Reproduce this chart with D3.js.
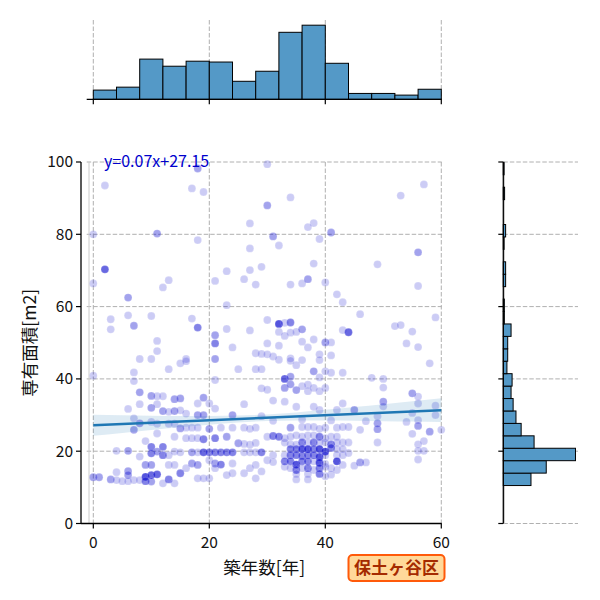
<!DOCTYPE html>
<html><head><meta charset="utf-8">
<script src="https://cdn.jsdelivr.net/npm/d3@7"></script>
<style>body{margin:0;background:#fff}svg{display:block}</style>
</head><body>
<script>
// ---------- data ----------
const xTicks = [0, 20, 40, 60];
const yTicks = [0, 20, 40, 60, 80, 100];
const topBinRange = [0, 60];            // 15 bins, width 4
const topCounts = [22,29,96,79,91,89,43,67,160,177,86,14,14,10,24];
const rightBinRange = [10.5, 99.9];      // 26 bins
const rightCounts = [107,166,279,119,69,49,38,30,34,14,17,17,30,4,4,0,9,9,0,3,9,0,0,5,0,3];
const regSlope = 0.07, regIntercept = 27.15;
const bandX  = [0,5,10,15,20,25,30,35,40,45,50,55,60];
const bandLo = [24.25,25.06,25.86,26.63,27.35,27.95,28.33,28.47,28.46,28.40,28.30,28.19,28.08];
const bandHi = [30.05,29.94,29.84,29.77,29.75,29.85,30.17,30.73,31.44,32.20,33.00,33.81,34.62];
const xLabel = "築年数[年]";
const yLabel = "専有面積[m2]";
const eqLabel = "y=0.07x+27.15";
const wardLabel = "保土ヶ谷区";
// [築年数, 専有面積, 重なり数]
const points = [
[2,93.5,1],[17,92.7,1],[19,91.7,1],[18,98.2,2],[27,83.0,1],[0,80.0,1],[11,80.2,2],[18,78.4,1],[27,76.1,1],[2,70.3,4],
[0,66.4,1],[13,67.3,1],[12,65.3,1],[6,62.5,2],[21,67.1,1],[23,69.8,1],[27,70.1,1],[26,67.6,1],[28,66.1,1],[29,71.0,1],
[23,60.4,1],[3,56.5,1],[3,53.7,1],[6,57.6,1],[7,54.7,2],[10,57.4,1],[17,56.7,1],[18,54.2,3],[11,50.5,1],[11,47.7,1],
[8,45.5,1],[10,45.5,1],[21,52.1,2],[21,49.8,3],[21,45.5,2],[24,48.7,1],[23,53.8,1],[27,53.4,1],[28,47.1,1],[29,46.9,1],[16,45.5,1],
[30,99.4,1],[34,90.2,1],[30,88.0,2],[38,83.1,1],[37,82.0,1],[41,80.5,2],[31,79.4,2],[39,78.7,1],[32,76.9,1],[57,93.8,1],
[53,90.7,1],[56,75.0,2],[49,71.7,1],[38,71.9,1],[34,66.1,1],[36,66.4,1],[37,67.6,2],[40,66.7,1],[42,63.4,1],[43,61.2,1],
[56,65.7,1],[46,57.9,1],[59,57.0,1],[30,56.3,1],[32,55.2,5],[33,55.5,1],[34,55.6,3],[32,53.0,1],[33,51.9,1],[34,52.8,1],
[35,53.0,1],[36,53.7,2],[38,50.9,1],[37,48.7,1],[36,50.3,1],[40,50.1,2],[41,50.1,1],[30,49.8,1],[32,49.2,1],[43,53.5,1],
[44,52.9,4],[52,54.6,1],[53,54.9,1],[55,53.1,1],[54,49.8,1],[56,48.8,1],
[30,46.8,1],[31,46.2,1],[32,45.3,1],[34,45.7,1],[34,45.0,1],[36,45.2,1],[39,46.8,1],[41,46.5,1],[39,45.2,1],[35,43.8,1],
[13,42.7,1],[0,40.9,1],[7,41.8,1],[7,39.4,1],[8,36.3,2],[8,33.0,1],[6,31.7,1],[10,35.3,2],[11,35.2,1],[12,35.2,1],
[10,32.0,2],[11,33.0,1],[12,31.1,2],[14,34.4,2],[14,31.1,2],[13,30.9,1],[7,29.1,1],[7,25.9,2],[8,27.7,2],[10,28.1,1],
[11,24.9,1],[11,27.6,1],[13,27.6,1],[14,27.6,1],[14,24.0,1],[9,22.8,1],[10,21.2,3],[10,19.4,3],[12,21.2,3],[12,18.9,3],
[11,19.9,2],[13,18.9,1],[14,19.9,1],[8,18.5,1],[4,20.1,1],[6,20.1,2],[9,16.2,2],[10,16.2,2],[13,16.2,1],[14,16.2,1],
[4,14.2,1],[6,14.5,2],[6,13.4,2],[0,12.8,2],[1,12.8,2],[3,12.2,2],[4,12.0,1],[7,12.0,1],[8,12.0,1],[9,12.9,5],
[10,13.4,4],[11,13.6,4],[9,11.7,3],[10,11.6,2],[12,11.1,1],[13,12.2,3],[14,11.1,1],[5,11.7,1],[6,11.7,1],
[15,44.3,1],[16,44.9,1],[25,42.7,1],[28,42.7,1],[29,42.7,1],[21,39.7,1],[29,37.4,1],[19,34.8,2],[18,33.2,1],[20,33.2,1],
[21,31.8,1],[26,33.0,1],[15,34.6,2],[18,30.0,2],[19,30.0,2],[24,30.0,2],[15,31.3,1],[16,30.4,1],[29,29.7,1],[15,26.3,2],
[16,26.5,1],[17,26.5,1],[18,26.5,1],[20,26.2,2],[21,23.6,3],[23,24.0,2],[19,23.3,3],[18,23.6,1],[17,23.6,1],[16,23.6,1],
[25,22.2,2],[26,22.0,1],[27,21.8,1],[28,22.3,1],[22,26.5,1],[24,26.5,1],[26,26.5,1],[27,26.2,1],[28,26.5,1],
[15,19.7,1],[17,19.7,2],[18,19.7,1],[19,19.7,4],[20,19.7,3],[21,19.7,3],[22,19.7,3],[23,19.7,3],[24,19.7,3],[26,19.7,1],
[27,19.7,1],[28,19.7,1],[29,19.7,3],[17,16.6,2],[18,16.2,2],[20,17.5,1],[21,16.6,2],[22,16.3,3],[24,16.6,1],[15,13.9,3],
[16,15.3,1],[18,12.5,1],[19,12.5,1],[20,12.5,1],[21,15.3,1],[23,13.4,1],[24,13.9,1],[26,13.9,1],[27,15.3,1],[28,16.2,1],
[29,14.4,1],[28,12.5,1],
[33,40.0,4],[34,40.6,2],[33,37.5,2],[34,38.5,2],[35,36.9,2],[36,38.0,1],[37,38.4,1],[37,36.6,1],[38,37.5,1],[39,40.4,1],
[38,42.1,2],[39,36.6,1],[40,37.5,1],[41,41.7,1],[43,41.7,1],[40,42.1,1],[33,33.7,1],[35,32.3,1],[38,32.3,1],[39,31.4,1],
[43,33.2,1],[42,31.4,1],[30,37.0,1],[31,34.0,1],[31,28.4,1],[36,28.8,1],[41,28.5,1],
[34,26.5,2],[36,26.7,1],[37,26.7,1],[38,26.7,1],[39,26.2,1],[40,26.5,1],[42,26.5,1],[43,26.7,1],[44,26.7,1],
[30,24.0,1],[31,24.2,3],[32,24.0,3],[33,23.6,1],[34,24.0,1],[35,24.4,1],[36,24.0,1],[37,24.4,1],[38,24.4,1],[39,24.0,3],
[40,23.6,1],[41,24.0,1],[42,24.0,1],
[33,22.4,1],[34,21.9,1],[35,21.8,1],[36,22.4,3],[37,22.4,1],[38,22.4,3],[39,22.4,1],[40,22.4,1],[41,21.9,3],[42,22.4,1],[43,22.4,1],
[34,20.6,3],[35,20.6,3],[36,20.6,5],[37,20.6,5],[38,20.6,3],[39,20.6,5],[40,19.9,5],[41,20.9,3],[42,20.6,1],[43,20.6,1],
[31,18.9,1],[33,18.9,1],[34,18.9,3],[35,18.9,3],[36,18.7,3],[37,18.9,3],[38,18.9,3],[39,18.4,5],[40,18.9,1],[42,18.9,1],[43,18.9,1],
[33,17.2,3],[34,17.2,3],[35,16.3,5],[36,17.2,3],[37,17.2,3],[38,17.2,1],[39,16.8,5],[40,16.5,1],[42,17.2,5],[43,16.2,1],
[33,15.7,1],[34,15.3,1],[35,14.8,3],[36,15.3,1],[37,15.3,3],[38,14.8,1],[39,15.3,3],[40,15.7,1],[41,15.3,1],[42,14.8,1],
[35,13.7,1],[37,13.7,1],[39,13.7,3],[41,13.5,1],[30,17.5,1],[31,17.0,1],[35,12.2,1],[37,12.2,1],[40,13.1,1],
[44,22.4,1],[44,19.5,1],
[58,44.3,1],[48,40.3,1],[50,40.0,1],[50,37.6,1],[55,36.0,2],[56,35.1,1],[56,33.2,1],[50,33.7,2],[50,32.4,1],[45,31.4,2],
[59,32.6,1],[59,30.0,1],[55,30.6,1],[49,29.7,1],[47,28.3,1],[49,27.7,2],[49,26.1,2],[46,25.9,1],[54,28.1,1],[56,28.6,1],
[56,27.0,2],[55,24.8,1],[58,25.4,2],[60,25.9,1],[49,22.4,1],[57,22.8,1],[56,21.9,1],[57,20.1,1],[56,20.1,1],[56,17.7,1],
[46,16.9,2],[47,16.9,1],[45,16.0,1]
];

// ---------- layout ----------
const W = 600, H = 600;
const FONT = "'Noto Sans CJK JP', 'Noto Sans', sans-serif";
const main = {l: 86.7, r: 441.7, t: 162, b: 523.5};
const topM = {t: 20, b: 99.3};
const rightM = {l: 503.3, r: 578};

const svg = d3.select("body").append("svg").attr("width", W).attr("height", H)
  .style("font-family", FONT);

const x = d3.scaleLinear().domain([-1.14, 60.07]).range([main.l, main.r]);
const y = d3.scaleLinear().domain([0, 100]).range([main.b, main.t]);

const gridColor = "#b0b0b0", dash = "4.5,2";

// ---------- main grid ----------
const g = svg.append("g");
g.selectAll(".vg").data(xTicks).join("line")
  .attr("x1", d => x(d)).attr("x2", d => x(d)).attr("y1", main.t).attr("y2", main.b)
  .attr("stroke", gridColor).attr("stroke-dasharray", dash).attr("stroke-width", 1);
g.selectAll(".hg").data(yTicks).join("line")
  .attr("x1", main.l).attr("x2", main.r).attr("y1", d => y(d)).attr("y2", d => y(d))
  .attr("stroke", gridColor).attr("stroke-dasharray", dash).attr("stroke-width", 1);
g.append("line").attr("x1", 89).attr("x2", 89).attr("y1", main.t).attr("y2", main.b)
  .attr("stroke", "#cccccc").attr("stroke-width", 1);

// ---------- scatter ----------
g.selectAll("circle.pt").data(points).join("circle")
  .attr("cx", d => x(d[0])).attr("cy", d => y(d[1])).attr("r", 3.9)
  .attr("fill", "#0000cd").attr("fill-opacity", d => 1 - Math.pow(0.8, d[2]))
  .attr("stroke", "#ffffff").attr("stroke-opacity", 0.25).attr("stroke-width", 0.7);

// ---------- regression band + line ----------
const bandData = bandX.map((bx, i) => [bx, bandLo[i], bandHi[i]]);
g.append("path").datum(bandData)
  .attr("d", d3.area().x(d => x(d[0])).y0(d => y(d[1])).y1(d => y(d[2])).curve(d3.curveMonotoneX))
  .attr("fill", "#1f77b4").attr("fill-opacity", 0.15);
g.append("path").datum([bandX[0], bandX[bandX.length - 1]])
  .attr("d", d3.line().x(d => x(d)).y(d => y(regSlope * d + regIntercept)))
  .attr("stroke", "#1f77b4").attr("stroke-width", 2.5).attr("fill", "none");

// equation
svg.append("text").attr("x", 104).attr("y", 167).text(eqLabel)
  .attr("fill", "#0000cd").attr("font-size", 16);

// ---------- main axes ----------
const spineX = 81;
svg.append("line").attr("x1", spineX).attr("x2", spineX).attr("y1", main.t).attr("y2", main.b)
  .attr("stroke", "#000").attr("stroke-width", 1.3);
svg.append("line").attr("x1", spineX).attr("x2", main.r).attr("y1", main.b).attr("y2", main.b)
  .attr("stroke", "#000").attr("stroke-width", 1.3);
const yAx = svg.append("g");
yAx.selectAll("line").data(yTicks).join("line")
  .attr("x1", spineX - 5).attr("x2", spineX).attr("y1", d => y(d)).attr("y2", d => y(d))
  .attr("stroke", "#000").attr("stroke-width", 1.2);
yAx.selectAll("text").data(yTicks).join("text")
  .attr("x", spineX - 8).attr("y", d => y(d)).attr("dy", "0.35em")
  .attr("text-anchor", "end").attr("font-size", 15.5).attr("fill", "#111").text(d => d);
const xAx = svg.append("g");
xAx.selectAll("line").data(xTicks).join("line")
  .attr("x1", d => x(d)).attr("x2", d => x(d)).attr("y1", main.b).attr("y2", main.b + 5)
  .attr("stroke", "#000").attr("stroke-width", 1.2);
xAx.selectAll("text").data(xTicks).join("text")
  .attr("x", d => x(d)).attr("y", 548)
  .attr("text-anchor", "middle").attr("font-size", 15.5).attr("fill", "#111").text(d => d);

// axis labels
svg.append("text").attr("x", (main.l + main.r) / 2).attr("y", 574)
  .attr("text-anchor", "middle").attr("font-size", 17.5).attr("fill", "#111").text(xLabel);
svg.append("text").attr("transform", `translate(36,${(main.t + main.b) / 2}) rotate(-90)`)
  .attr("text-anchor", "middle").attr("font-size", 17.5).attr("fill", "#111").text(yLabel);

// ward label box
const wb = svg.append("g");
wb.append("rect").attr("x", 348.5).attr("y", 555).attr("width", 96).attr("height", 26)
  .attr("rx", 4).attr("fill", "#ffd99a").attr("stroke", "#ff5a0a").attr("stroke-width", 2);
wb.append("text").attr("x", 396.5).attr("y", 568).attr("dy", "0.36em")
  .attr("text-anchor", "middle").attr("font-size", 17).attr("font-weight", "bold")
  .attr("fill", "#a52a00").text(wardLabel);

// ---------- top marginal ----------
const nTop = topCounts.length;
const topW = (topBinRange[1] - topBinRange[0]) / nTop;
const topBins = topCounts.map((c, i) => ({x0: topBinRange[0] + i * topW, x1: topBinRange[0] + (i + 1) * topW, c}));
const yTop = d3.scaleLinear().domain([0, d3.max(topCounts) * 1.07]).range([topM.b, topM.t]);
svg.selectAll(".tg").data(xTicks).join("line")
  .attr("x1", d => x(d)).attr("x2", d => x(d)).attr("y1", topM.t).attr("y2", topM.b)
  .attr("stroke", gridColor).attr("stroke-dasharray", dash);
svg.selectAll(".tb").data(topBins).join("rect")
  .attr("x", d => x(d.x0)).attr("width", d => x(d.x1) - x(d.x0))
  .attr("y", d => yTop(d.c)).attr("height", d => yTop(0) - yTop(d.c))
  .attr("fill", "#5499c7").attr("stroke", "#000").attr("stroke-width", 1);
svg.append("line").attr("x1", main.l).attr("x2", main.r).attr("y1", topM.b).attr("y2", topM.b)
  .attr("stroke", "#000").attr("stroke-width", 1.3);
svg.selectAll(".tt").data(xTicks).join("line")
  .attr("x1", d => x(d)).attr("x2", d => x(d)).attr("y1", topM.b).attr("y2", topM.b + 5)
  .attr("stroke", "#000").attr("stroke-width", 1.2);

// ---------- right marginal ----------
const nR = rightCounts.length;
const rW = (rightBinRange[1] - rightBinRange[0]) / nR;
const rBins = rightCounts.map((c, i) => ({y0: rightBinRange[0] + i * rW, y1: rightBinRange[0] + (i + 1) * rW, c}));
const xR = d3.scaleLinear().domain([0, d3.max(rightCounts) * 1.035]).range([rightM.l, rightM.r]);
svg.selectAll(".rg").data(yTicks).join("line")
  .attr("x1", rightM.l).attr("x2", rightM.r).attr("y1", d => y(d)).attr("y2", d => y(d))
  .attr("stroke", gridColor).attr("stroke-dasharray", dash);
svg.append("line").attr("x1", rightM.l + 1.2).attr("x2", rightM.l + 1.2).attr("y1", main.t).attr("y2", main.b)
  .attr("stroke", "#cccccc");
svg.selectAll(".rb").data(rBins.filter(d => d.c > 0)).join("rect")
  .attr("x", xR(0)).attr("width", d => xR(d.c) - xR(0))
  .attr("y", d => y(d.y1)).attr("height", d => y(d.y0) - y(d.y1))
  .attr("fill", "#5499c7").attr("stroke", "#000").attr("stroke-width", 1);
svg.append("line").attr("x1", rightM.l).attr("x2", rightM.l).attr("y1", main.t).attr("y2", main.b)
  .attr("stroke", "#000").attr("stroke-width", 1.3);
svg.selectAll(".rt").data(yTicks).join("line")
  .attr("x1", rightM.l - 5).attr("x2", rightM.l).attr("y1", d => y(d)).attr("y2", d => y(d))
  .attr("stroke", "#000").attr("stroke-width", 1.2);
</script>
</body></html>
